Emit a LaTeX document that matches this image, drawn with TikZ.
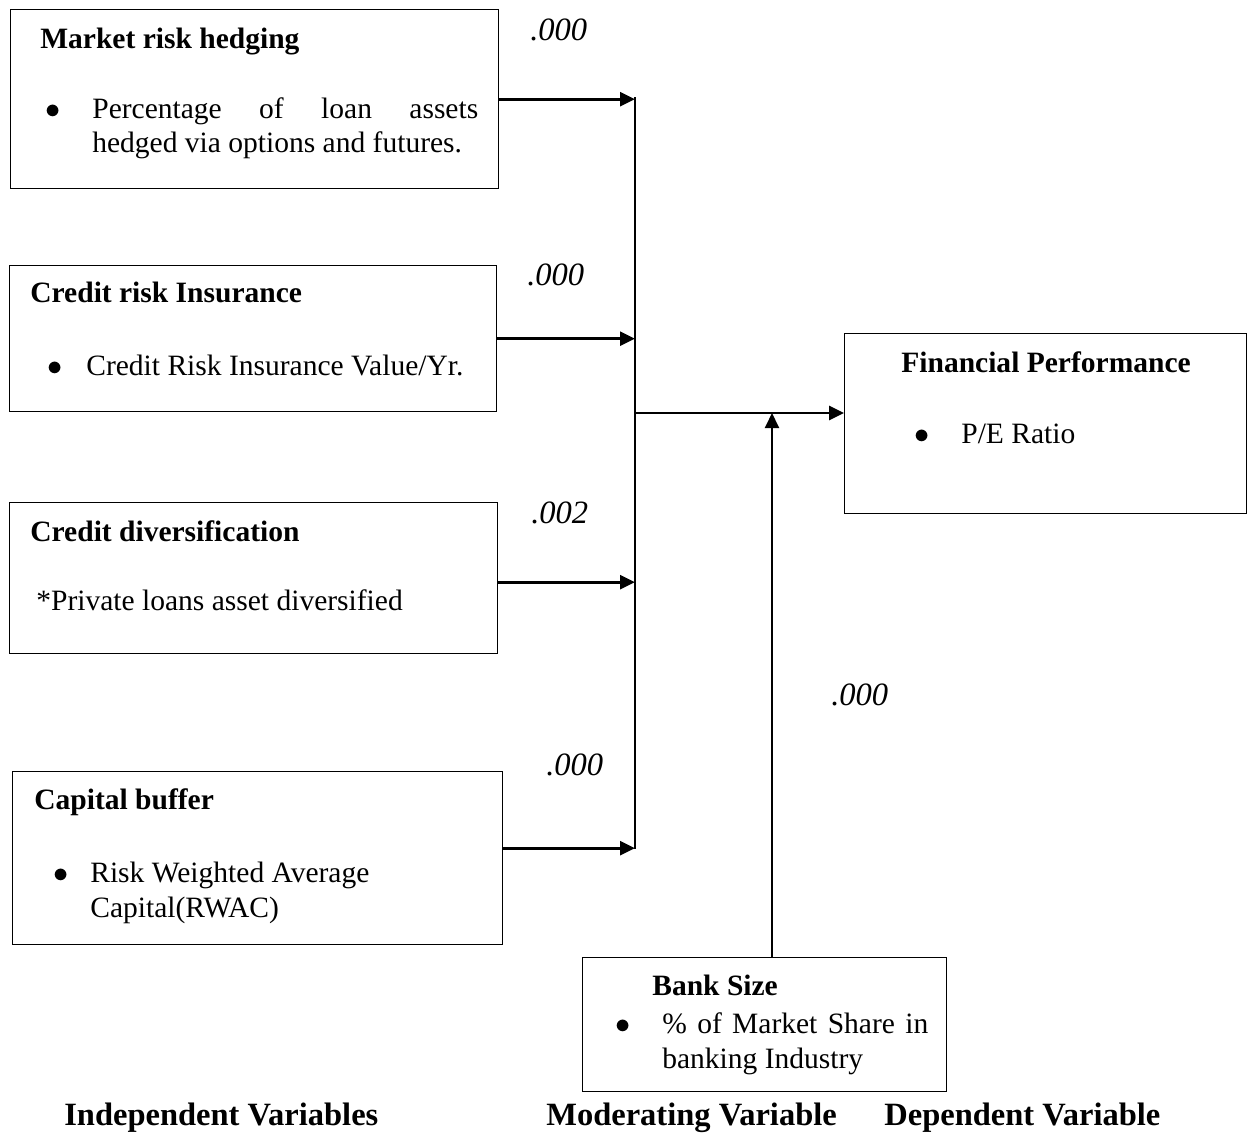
\documentclass[tikz,border=0pt]{standalone}
\usepackage{fontspec}
\setmainfont{Liberation Serif}
\usetikzlibrary{arrows.meta}
\tikzset{
  box/.style={draw, line width=0.8pt, anchor=north west, inner sep=0pt},
  txt/.style={anchor=base west, inner sep=0pt, font=\fontsize{16.8}{20}\selectfont},
  ttl/.style={txt, font=\fontsize{16.8}{20}\selectfont\bfseries},
  grp/.style={txt, font=\fontsize{18.5}{22}\selectfont\bfseries},
  pval/.style={txt, font=\fontsize{18.5}{22}\selectfont\itshape},
  arr/.style={line width=1.5pt, -{Triangle[length=0.3cm,width=0.28cm]}},
  bus/.style={line width=0.9pt}
}
\newcommand{\blt}{$\bullet$}
\begin{document}
\begin{tikzpicture}[x=0.02cm, y=-0.02cm]
            \useasboundingbox (0,0) rectangle (1248,1133);

            % Drawing box Market risk hedging
            \node [box, minimum width=9.76cm, minimum height=3.58cm] (mrh) at (10,9) {};
            \node [ttl] (mrht) at (40,48) {Market risk hedging};
            \node [txt] (mrhb) at (45,118) {\blt};
            \node [txt] (mrh1) at (92,118) {\makebox[7.72cm][s]{Percentage of loan assets}};
            \node [txt] (mrh2) at (92,152) {hedged via options and futures.};

            % Drawing box Credit risk Insurance
            \node [box, minimum width=9.74cm, minimum height=2.92cm] (cri) at (9,265) {};
            \node [ttl] (crit) at (30,302) {Credit risk Insurance};
            \node [txt] (crib) at (47,375) {\blt};
            \node [txt] (cri1) at (86,375) {Credit Risk Insurance Value/Yr.};

            % Drawing box Credit diversification
            \node [box, minimum width=9.76cm, minimum height=3.02cm] (cd) at (9,502) {};
            \node [ttl] (cdt) at (30,541) {Credit diversification};
            \node [txt] (cd1) at (36,610) {*Private loans asset diversified};

            % Drawing box Capital buffer
            \node [box, minimum width=9.8cm, minimum height=3.46cm] (cb) at (12,771) {};
            \node [ttl] (cbt) at (34,809) {Capital buffer};
            \node [txt] (cbb) at (53,882) {\blt};
            \node [txt] (cb1) at (90,882) {Risk Weighted Average};
            \node [txt] (cb2) at (90,917) {Capital(RWAC)};

            % Drawing box Financial Performance
            \node [box, minimum width=8.04cm, minimum height=3.6cm] (fp) at (844,333) {};
            \node [ttl] (fpt) at (901,372) {Financial Performance};
            \node [txt] (fpb) at (914,443) {\blt};
            \node [txt] (fp1) at (961,443) {P/E Ratio};

            % Drawing box Bank Size
            \node [box, minimum width=7.28cm, minimum height=2.68cm] (bs) at (582,957) {};
            \node [ttl] (bst) at (652,995) {Bank Size};
            \node [txt] (bsb) at (615,1033) {\blt};
            \node [txt] (bs1) at (662,1033) {\makebox[5.32cm][s]{\% of Market Share in}};
            \node [txt] (bs2) at (662,1068) {banking Industry};

            % Drawing connectors
            \coordinate (bt) at (635,97);
            \coordinate (bb) at (635,849);
            \coordinate (bj) at (635,413);
            \coordinate (mj) at (772,413);
            \draw [bus] (bt) -- (bb);
            \draw [arr] (mrh.east) -- (mrh.east -| bt);
            \draw [arr] (cri.east) -- (cri.east -| bt);
            \draw [arr] ([yshift=-0.08cm]cd.east) coordinate (cdo) -- (cdo -| bt);
            \draw [arr] ([yshift=0.2cm]cb.east) coordinate (cbo) -- (cbo -| bt);
            \draw [arr] (bj) -- (bj -| fp.west);
            \draw [arr, line width=1.1pt] (bs.north -| mj) -- (mj);

            % Marking p-values
            \node [pval] (p1) at (530,40) {.000};
            \node [pval] (p2) at (527,285) {.000};
            \node [pval] (p3) at (531,523) {.002};
            \node [pval] (p4) at (546,775) {.000};
            \node [pval] (p5) at (831,705) {.000};

            % Marking variable groups
            \node [grp] (iv) at (64,1125) {Independent Variables};
            \node [grp] (mv) at (546,1125) {Moderating Variable};
            \node [grp] (dv) at (884,1125) {Dependent Variable};
        \end{tikzpicture}
\end{document}
